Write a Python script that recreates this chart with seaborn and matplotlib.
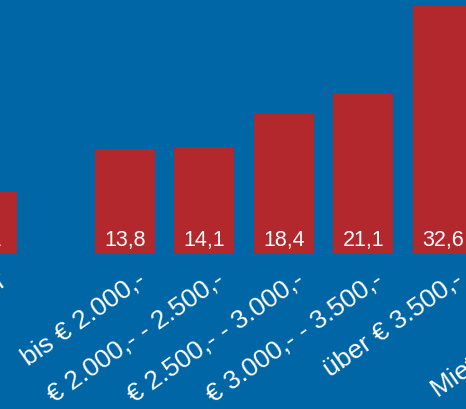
import matplotlib
matplotlib.use("Agg")
import matplotlib.pyplot as plt
import matplotlib.transforms as mtransforms
import seaborn as sns
import pandas as pd

# ---- data ----
categories = ["Eigentümer", "bis € 2.000,-", "€ 2.000,- - 2.500,-",
              "€ 2.500,- - 3.000,-", "€ 3.000,- - 3.500,-", "über € 3.500,-",
              "Mieter insgesamt"]
values = [8.1, 13.8, 14.1, 18.4, 21.1, 32.6, 30.0]
value_labels = ["8,1", "13,8", "14,1", "18,4", "21,1", "32,6", "30,0"]

# ---- layout ----
BLUE = "#0066a6"
RED = "#b3282d"
group_gap = 0.736
positions = [0.0] + [group_gap + 1 + i for i in range(5)] + [2 * group_gap + 6]

sns.set_theme(style="white")
plt.rcParams["font.family"] = ["Liberation Sans", "DejaVu Sans"]

W, H = 466, 410
fig = plt.figure(figsize=(W / 100, H / 100), dpi=100)
fig.patch.set_facecolor(BLUE)
# axes extends beyond the figure edges (cropped view)
px_left, px_right = -100, 700
ax = fig.add_axes([px_left / W, (H - 255) / H, (px_right - px_left) / W, 255 / H])
ax.set_facecolor(BLUE)

df = pd.DataFrame({"pos": positions, "value": values})
sns.barplot(data=df, x="pos", y="value", native_scale=True, color=RED,
            saturation=1, width=0.755, ax=ax, errorbar=None, linewidth=0)

for p, v, lab in zip(positions, values, value_labels):
    ax.annotate(lab, (p, 0), xytext=(0, 6.8), textcoords="offset points",
                ha="center", va="baseline", color="white", fontsize=15.5)

unit = 79.5
x0 = 0.164
ax.set_xticks(positions)
ax.set_xticklabels(categories)
ax.set_xlim(x0 + px_left / unit, x0 + px_right / unit)
ax.set_ylim(0, 33.5)
ax.set_xlabel("")
ax.set_ylabel("")
ax.set_yticks([])
ax.tick_params(axis="x", length=0, pad=0)
for s in ax.spines.values():
    s.set_visible(False)

offset = mtransforms.ScaledTranslation(0.175, -0.22, fig.dpi_scale_trans)
for t in ax.get_xticklabels():
    t.set_rotation(35)
    t.set_rotation_mode("anchor")
    t.set_ha("right")
    t.set_va("center")
    t.set_color("white")
    t.set_fontsize(19)
    t.set_transform(t.get_transform() + offset)

fig.savefig("out.png", dpi=100, facecolor=BLUE)
